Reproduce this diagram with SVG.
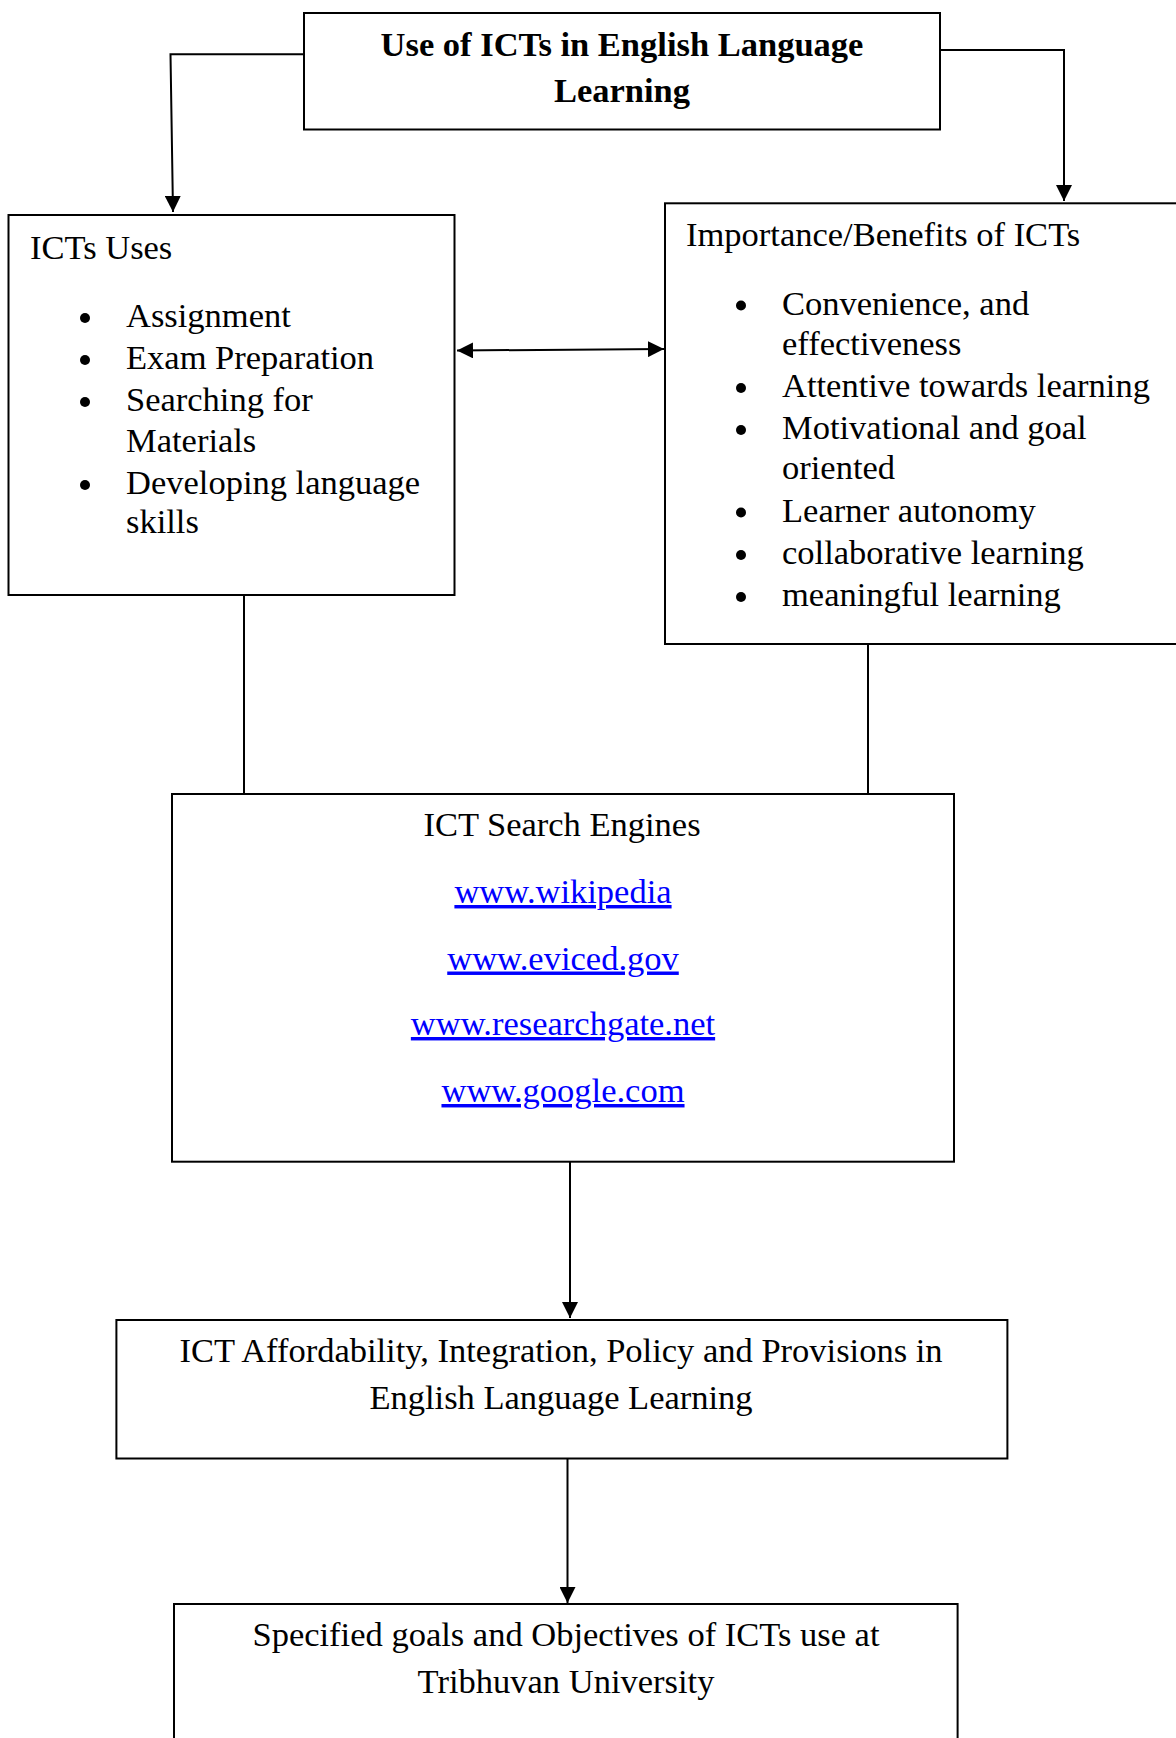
<svg xmlns="http://www.w3.org/2000/svg" width="1176" height="1738" viewBox="0 0 1176 1738">
<style>
.box{fill:#fff;stroke:#000;stroke-width:2}
.t{font-family:"Liberation Serif","Times New Roman",serif;font-size:34.5px;fill:#000}
.b{font-weight:bold}
.c{text-anchor:middle}
.lnk{fill:#0000ff;text-decoration:underline}
.con{fill:none;stroke:#000;stroke-width:2}
</style>
<defs>
<marker id="ah" markerUnits="userSpaceOnUse" markerWidth="16" markerHeight="16" viewBox="0 0 14 14" refX="14" refY="7" orient="auto-start-reverse">
<path d="M0,0 L14,7 L0,14 Z" fill="#000"/>
</marker>
</defs>
<rect width="1176" height="1738" fill="#fff"/>
<g id="connectors">
<polyline class="con" points="304,54.3 170.5,54.3 173,212" marker-end="url(#ah)"/>
<polyline class="con" points="940,50 1064,50 1064,201" marker-end="url(#ah)"/>
<line class="con" x1="457" y1="350.5" x2="664" y2="349" marker-start="url(#ah)" marker-end="url(#ah)"/>
<line class="con" x1="244" y1="595" x2="244" y2="794"/>
<line class="con" x1="868" y1="644" x2="868" y2="794"/>
<line class="con" x1="570" y1="1162" x2="570" y2="1318" marker-end="url(#ah)"/>
<line class="con" x1="567.5" y1="1459" x2="567.5" y2="1603" marker-end="url(#ah)"/>
</g>
<g id="node-title">
<rect class="box" x="304" y="13" width="636" height="116.5"/>
<text class="t b c" x="622" y="56">Use of ICTs in English Language</text>
<text class="t b c" x="622" y="102">Learning</text>
</g>
<g id="node-uses">
<rect class="box" x="8.5" y="215" width="446" height="380"/>
<text class="t" x="30" y="258.5">ICTs Uses</text>
<circle cx="85" cy="318" r="5"/>
<circle cx="85" cy="360" r="5"/>
<circle cx="85" cy="402" r="5"/>
<circle cx="85" cy="485" r="5"/>
<text class="t" x="126" y="327">Assignment</text>
<text class="t" x="126" y="369">Exam Preparation</text>
<text class="t" x="126" y="411">Searching for</text>
<text class="t" x="126" y="451.5">Materials</text>
<text class="t" x="126" y="494">Developing language</text>
<text class="t" x="126" y="533">skills</text>
</g>
<g id="node-benefits">
<rect class="box" x="665" y="203.3" width="520" height="440.7"/>
<text class="t" x="686" y="245.5">Importance/Benefits of ICTs</text>
<circle cx="741" cy="305.5" r="5"/>
<circle cx="741" cy="388" r="5"/>
<circle cx="741" cy="430" r="5"/>
<circle cx="741" cy="512.5" r="5"/>
<circle cx="741" cy="555" r="5"/>
<circle cx="741" cy="597" r="5"/>
<text class="t" x="782" y="314.5">Convenience, and</text>
<text class="t" x="782" y="354.5">effectiveness</text>
<text class="t" x="782" y="397">Attentive towards learning</text>
<text class="t" x="782" y="439">Motivational and goal</text>
<text class="t" x="782" y="479">oriented</text>
<text class="t" x="782" y="521.5">Learner autonomy</text>
<text class="t" x="782" y="564">collaborative learning</text>
<text class="t" x="782" y="606">meaningful learning</text>
</g>
<g id="node-search">
<rect class="box" x="172" y="794" width="782" height="367.7"/>
<text class="t c" x="562" y="835.5">ICT Search Engines</text>
<text class="t c lnk" x="563" y="903">www.wikipedia</text>
<text class="t c lnk" x="563" y="969.5">www.eviced.gov</text>
<text class="t c lnk" x="563" y="1035">www.researchgate.net</text>
<text class="t c lnk" x="563" y="1102">www.google.com</text>
</g>
<g id="node-affordability">
<rect class="box" x="116.4" y="1320" width="891" height="138.5"/>
<text class="t c" x="561" y="1362">ICT Affordability, Integration, Policy and Provisions in</text>
<text class="t c" x="561" y="1409">English Language Learning</text>
</g>
<g id="node-goals">
<rect class="box" x="174" y="1604" width="783.6" height="150"/>
<text class="t c" x="566" y="1645.5">Specified goals and Objectives of ICTs use at</text>
<text class="t c" x="566" y="1692.5">Tribhuvan University</text>
</g>
</svg>
